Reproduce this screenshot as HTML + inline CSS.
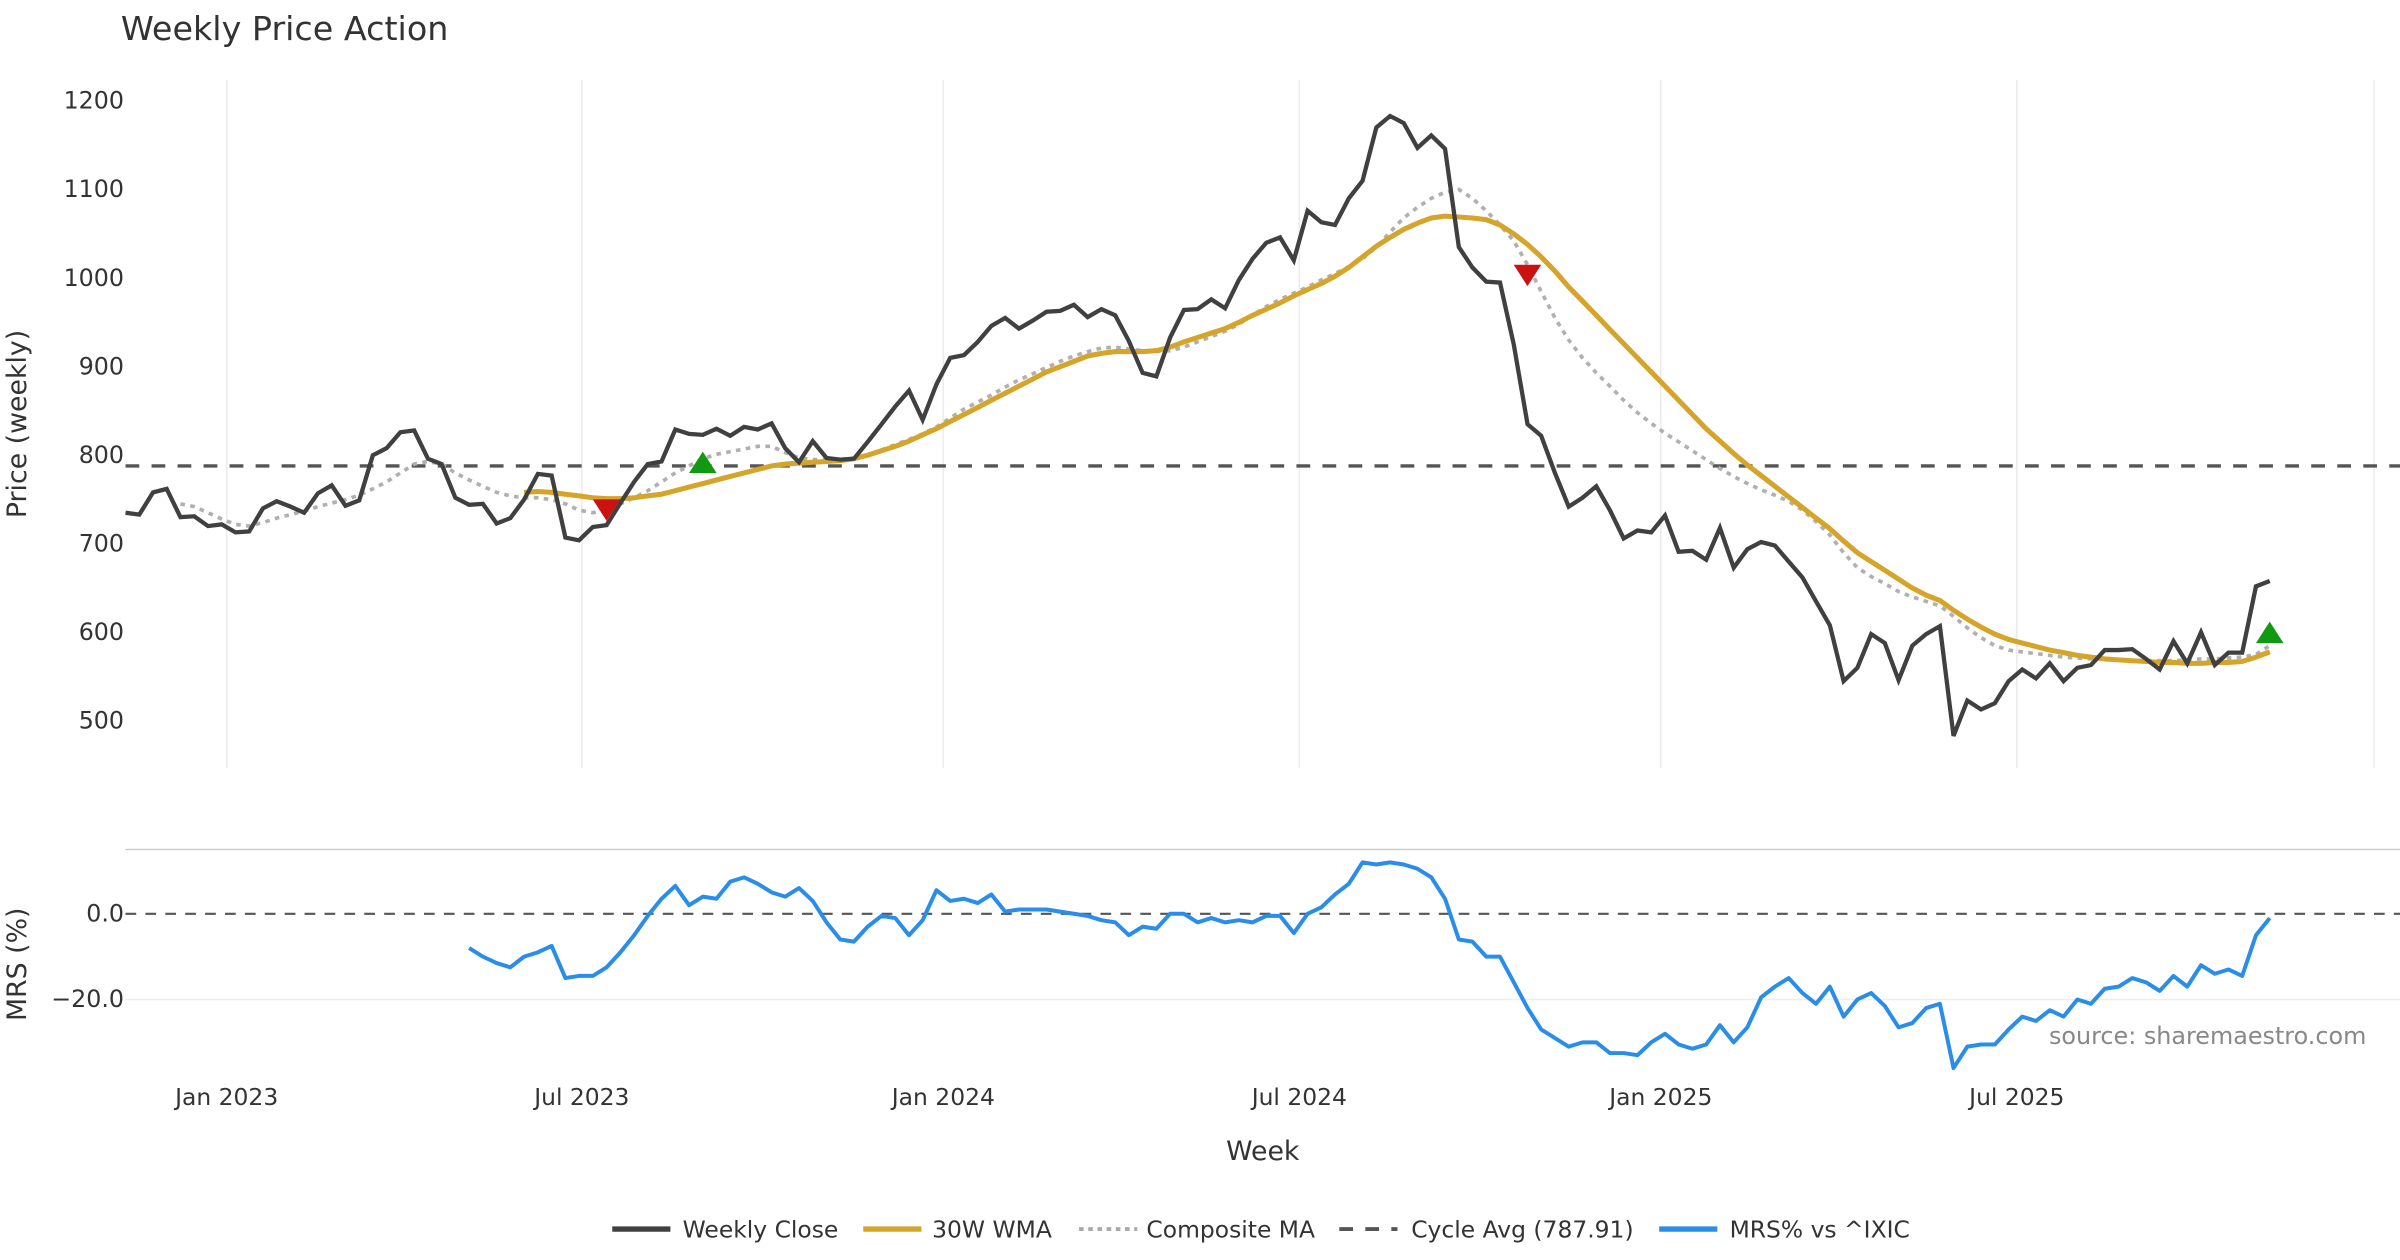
<!DOCTYPE html>
<html><head><meta charset="utf-8">
<style>
html,body{margin:0;padding:0;background:#fff;}
svg{display:block;font-family:"DejaVu Sans","Liberation Sans",sans-serif;}
</style></head>
<body>
<svg id="chart" width="2400" height="1260" viewBox="0 0 1568 823.2" xmlns="http://www.w3.org/2000/svg">
<rect width="1568" height="823.2" fill="#fff"/>
<text x="79" y="26" font-size="21.8" fill="#333">Weekly Price Action</text>
<g id="grid"></g>
<g id="series"></g>
<g id="axes"></g>
<text transform="translate(17,277) rotate(-90)" text-anchor="middle" font-size="17.5" fill="#333">Price (weekly)</text>
<text transform="translate(17,630) rotate(-90)" text-anchor="middle" font-size="17.5" fill="#333">MRS (%)</text>
<text x="825" y="758" text-anchor="middle" font-size="17.5" fill="#333">Week</text>
<text x="1546" y="682" text-anchor="end" font-size="15.6" fill="#888">source: sharemaestro.com</text>
<g id="legend">
  <line x1="400" y1="803" x2="438" y2="803" stroke="#404040" stroke-width="3.5"/>
  <text x="446" y="808.5" font-size="15.3" fill="#333">Weekly Close</text>
  <line x1="564" y1="803" x2="602" y2="803" stroke="#d4a52a" stroke-width="3.5"/>
  <text x="609" y="808.5" font-size="15.3" fill="#333">30W WMA</text>
  <line x1="705" y1="803" x2="743" y2="803" stroke="#aaa" stroke-width="2.5" stroke-dasharray="3,3"/>
  <text x="749" y="808.5" font-size="15.3" fill="#333">Composite MA</text>
  <line x1="875" y1="803" x2="913" y2="803" stroke="#555" stroke-width="2.5" stroke-dasharray="9,8"/>
  <text x="922" y="808.5" font-size="15.3" fill="#333">Cycle Avg (787.91)</text>
  <line x1="1084" y1="803" x2="1122" y2="803" stroke="#2a8de8" stroke-width="3.5"/>
  <text x="1130" y="808.5" font-size="15.3" fill="#333">MRS% vs ^IXIC</text>
</g>
</svg>
<script>
const priceTicks = [500,600,700,800,900,1000,1100,1200];
const mrsTicks = [0,-20];
const mrsTickLabels = ["0.0","−20.0"];
const dateTickIdx = [7.36,33.2,59.5,85.4,111.7,137.6];
const dateTickLabels = ["Jan 2023","Jul 2023","Jan 2024","Jul 2024","Jan 2025","Jul 2025"];
const cycleAvg = 787.91;
const close = [735,733,758,762,730,731,720,722,713,714,740,748,742,735,757,766,743,749,800,808,826,828,796,790,752,744,745,723,729,750,779,777,707,704,719,721,746,770,790,793,829,824,823,830,822,832,829,836,808,792,816,797,795,796,815,835,855,873,840,880,910,913,928,946,955,943,952,962,963,970,956,965,958,929,893,889,933,964,965,976,966,998,1022,1040,1046,1020,1076,1063,1060,1090,1110,1170,1183,1175,1147,1161,1146,1035,1012,996,995,925,835,822,780,742,752,765,738,706,715,713,732,691,692,682,718,673,694,702,698,680,662,635,608,545,560,598,588,546,585,598,607,483,523,513,520,545,558,548,565,545,560,563,580,580,581,570,558,590,565,600,563,577,577,652,658];
const wmaStart = 29;
const wma = [758,759,758,756,754,752,751,751,752,754,756,760,764,768,772,776,780,784,788,790,791,792,793,794,796,800,805,810,816,823,830,838,846,854,862,870,878,886,894,900,906,912,915,917,917,917,918,922,928,933,938,943,950,958,965,972,980,987,994,1002,1012,1024,1036,1046,1055,1062,1068,1070,1069,1068,1066,1060,1050,1038,1024,1008,990,974,958,942,926,910,894,878,862,846,830,816,802,789,777,765,753,741,729,717,703,690,680,670,660,650,642,636,625,615,606,598,592,588,584,580,577,574,572,570,569,568,567,566,566,565,565,566,566,567,572,578];
const compStart = 4;
const comp = [745,742,735,728,722,720,724,729,733,737,742,746,750,755,762,770,780,790,793,790,780,772,765,758,754,752,752,750,745,738,735,738,745,752,760,770,780,788,796,801,804,807,810,810,803,797,795,795,795,797,800,806,812,818,824,832,842,852,860,868,877,885,892,899,906,912,917,921,922,920,918,917,918,922,928,934,940,948,958,968,976,983,990,998,1005,1013,1022,1035,1052,1068,1080,1090,1097,1100,1090,1076,1060,1042,1015,985,955,930,910,893,878,862,848,836,825,815,805,795,785,776,768,761,755,748,738,725,710,690,673,663,655,646,640,635,630,618,605,594,585,580,578,576,574,572,571,570,570,569,568,568,568,568,569,570,570,571,572,575,585];
const mrsStart = 25;
const mrs = [-8,-10,-11.5,-12.5,-10,-9,-7.5,-15,-14.5,-14.5,-12.5,-9,-5,-0.5,3.5,6.5,2,4,3.5,7.5,8.5,7,5,4,6,3,-2,-6,-6.5,-3,-0.5,-1,-5,-1.5,5.5,3,3.5,2.5,4.5,0.5,1,1,1,0.5,0,-0.5,-1.5,-2,-5,-3,-3.5,0,0,-2,-1,-2,-1.5,-2,-0.5,-0.5,-4.5,0,1.5,4.5,7,12,11.5,12,11.5,10.5,8.5,3.5,-6,-6.5,-10,-10,-16,-22,-27,-29,-31,-30,-30,-32.5,-32.5,-33,-30,-28,-30.5,-31.5,-30.5,-26,-30,-26.5,-19.5,-17,-15,-18.5,-21,-17,-24,-20,-18.5,-21.5,-26.5,-25.5,-22,-21,-36,-31,-30.5,-30.5,-27,-24,-25,-22.5,-24,-20,-21,-17.5,-17,-15,-16,-18,-14.5,-17,-12,-14,-13,-14.5,-5,-1];
const sellIdx = [35,102];
const sellVal = [738,1003];
const buyIdx = [42,156];
const buyVal = [792,600];

const NS="http://www.w3.org/2000/svg";
const X0=82, DX=8.98;
const xs=i=>X0+i*DX;
const yP=v=>471-(v-500)*0.5786;
const yM=v=>597-v*2.8;
function mk(tag,attrs,parent){const e=document.createElementNS(NS,tag);for(const k in attrs)e.setAttribute(k,attrs[k]);parent.appendChild(e);return e;}
const grid=document.getElementById('grid'), ser=document.getElementById('series'), ax=document.getElementById('axes');

dateTickIdx.forEach((t,k)=>{
  const x=xs(t);
  const g1=mk('line',{x1:x,x2:x,y1:52,y2:502,stroke:'#ececf0','stroke-width':1},grid);
  
  
  const lb=mk('text',{x:x,y:722,'text-anchor':'middle','font-size':15.3,fill:'#333'},ax);
  lb.textContent=dateTickLabels[k];
  
  
});
{const x=xs(dateTickIdx[5]+26);const g=mk('line',{x1:x,x2:x,y1:52,y2:502,stroke:'#ececf0','stroke-width':1},grid);

}
priceTicks.forEach(v=>{
  const t=mk('text',{x:81,y:yP(v)+5,'text-anchor':'end','font-size':15.5,fill:'#333'},ax);
  t.textContent=v;
  
  
});
const sep=mk('line',{x1:82,x2:1568,y1:555,y2:555,stroke:'#ccc','stroke-width':1},grid);


mrsTicks.forEach((v,k)=>{
  if(v!==0){const l=mk('line',{x1:82,x2:1568,y1:yM(v),y2:yM(v),stroke:'#eee','stroke-width':1},grid);
  
  }
  const t=mk('text',{x:81,y:yM(v)+5,'text-anchor':'end','font-size':15.5,fill:'#333'},ax);
  t.textContent=mrsTickLabels[k];
  
  
});
const cyc=mk('line',{x1:82,x2:1568,y1:yP(cycleAvg),y2:yP(cycleAvg),stroke:'#555','stroke-width':2.2,'stroke-dasharray':'9,8'},ser);


const zl=mk('line',{x1:82,x2:1568,y1:yM(0),y2:yM(0),stroke:'#555','stroke-width':1.4,'stroke-dasharray':'7,6'},ser);


function pts(arr,start,yf){return arr.map((v,k)=>xs(start+k).toFixed(1)+','+yf(v).toFixed(1)).join(' ');}
const pc=mk('polyline',{points:pts(comp,compStart,yP),fill:'none',stroke:'#b0b0b0','stroke-width':2.4,'stroke-dasharray':'3,3.5'},ser);


const pw=mk('polyline',{points:pts(wma,wmaStart,yP),fill:'none',stroke:'#d4a52a','stroke-width':3.3,'stroke-linejoin':'round'},ser);


const pcl=mk('polyline',{points:pts(close,0,yP),fill:'none',stroke:'#404040','stroke-width':2.8,'stroke-linejoin':'miter'},ser);


const pm=mk('polyline',{points:pts(mrs,mrsStart,yM),fill:'none',stroke:'#2a8de8','stroke-width':2.6,'stroke-linejoin':'round'},ser);


sellIdx.forEach((i,k)=>{const x=xs(i),y=yP(sellVal[k]);
  const p=mk('polygon',{points:`${x-9},${y-7} ${x+9},${y-7} ${x},${y+7}`,fill:'#cc1111'},ser);
  
  });
buyIdx.forEach((i,k)=>{const x=xs(i),y=yP(buyVal[k]);
  const p=mk('polygon',{points:`${x-9},${y+7} ${x+9},${y+7} ${x},${y-7}`,fill:'#119911'},ser);
  
  });
</script>
</body></html>
